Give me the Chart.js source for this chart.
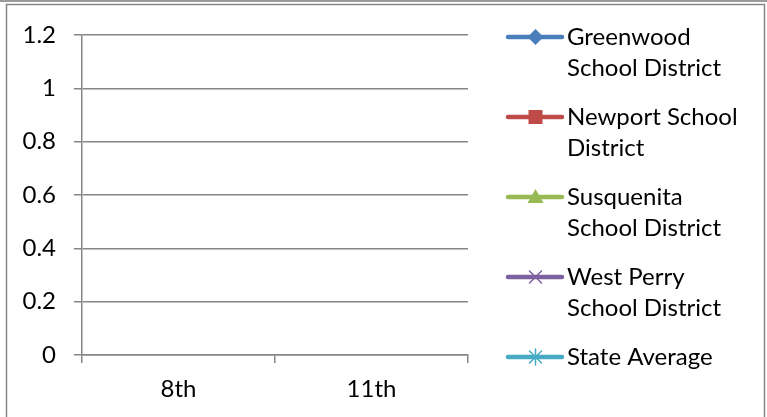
<!DOCTYPE html>
<html>
<head>
<meta charset="utf-8">
<script src="https://cdn.jsdelivr.net/npm/chart.js@4/dist/chart.umd.min.js"></script>
<style>
html,body{margin:0;padding:0;background:#fff;}
#wrap{width:767px;height:417px;}
canvas{display:block;}
</style>
</head>
<body>
<div id="wrap"><canvas id="c" width="767" height="417"></canvas></div>
<script>
// ---- data ----
const categories = ['8th', '11th'];
const seriesNames = [
  ['Greenwood', 'School District'],
  ['Newport School', 'District'],
  ['Susquenita', 'School District'],
  ['West Perry', 'School District'],
  ['State Average']
];
const greenwood = [null, null];
const newport = [null, null];
const susquenita = [null, null];
const westPerry = [null, null];
const stateAverage = [null, null];
const yTickLabels = ['0', '0.2', '0.4', '0.6', '0.8', '1', '1.2'];

// ---- styles ----
const FONT = 'Lato, "Open Sans", sans-serif';
const FS = 24;
const colors = ['#4A7EBB', '#BE4B48', '#98B954', '#7D60A0', '#46AAC5'];
const markers = ['diamond', 'square', 'triangle', 'x', 'star'];
const seriesData = [greenwood, newport, susquenita, westPerry, stateAverage];

const frame = {
  id: 'frame',
  beforeDraw(chart) {
    const ctx = chart.ctx;
    ctx.save();
    ctx.fillStyle = '#fff';
    ctx.fillRect(0, 0, chart.width, chart.height);
    ctx.strokeStyle = '#9a9a9a';
    ctx.lineWidth = 2;
    ctx.beginPath(); ctx.moveTo(0, 1); ctx.lineTo(chart.width, 1); ctx.stroke();
    ctx.strokeStyle = '#868686';
    ctx.lineWidth = 1.5;
    ctx.beginPath();
    ctx.moveTo(6.5, chart.height + 2);
    ctx.lineTo(6.5, 4.5);
    ctx.lineTo(764.5, 4.5);
    ctx.lineTo(764.5, chart.height + 2);
    ctx.stroke();
    ctx.restore();
  }
};

function drawMarker(ctx, type, x, y, color) {
  ctx.save();
  ctx.fillStyle = color;
  ctx.strokeStyle = color;
  ctx.lineWidth = 1.5;
  ctx.beginPath();
  if (type === 'diamond') {
    ctx.moveTo(x, y - 8); ctx.lineTo(x + 8, y); ctx.lineTo(x, y + 8); ctx.lineTo(x - 8, y); ctx.closePath(); ctx.fill();
  } else if (type === 'square') {
    ctx.rect(x - 7, y - 7, 14, 14); ctx.fill();
  } else if (type === 'triangle') {
    ctx.moveTo(x, y - 8); ctx.lineTo(x + 8, y + 6); ctx.lineTo(x - 8, y + 6); ctx.closePath(); ctx.fill();
  } else if (type === 'x') {
    ctx.moveTo(x - 6, y - 6); ctx.lineTo(x + 6, y + 6);
    ctx.moveTo(x + 6, y - 6); ctx.lineTo(x - 6, y + 6); ctx.stroke();
  } else if (type === 'star') {
    ctx.moveTo(x - 6, y - 6); ctx.lineTo(x + 6, y + 6);
    ctx.moveTo(x + 6, y - 6); ctx.lineTo(x - 6, y + 6);
    ctx.moveTo(x, y - 8); ctx.lineTo(x, y + 8); ctx.stroke();
  }
  ctx.restore();
}

const legendPlugin = {
  id: 'sideLegend',
  afterDraw(chart) {
    const ctx = chart.ctx;
    ctx.save();
    ctx.font = FS + 'px ' + FONT;
    ctx.textBaseline = 'alphabetic';
    ctx.textAlign = 'left';
    chart.data.datasets.forEach((ds, i) => {
      const base = 45 + i * 80;
      const cy = base - 8;
      ctx.strokeStyle = ds.borderColor;
      ctx.lineWidth = 4.5;
      ctx.lineCap = 'round';
      ctx.beginPath(); ctx.moveTo(508, cy); ctx.lineTo(562, cy); ctx.stroke();
      drawMarker(ctx, markers[i], 535.5, cy, ds.borderColor);
      ctx.fillStyle = '#000';
      const lines = seriesNames[i];
      lines.forEach((t, j) => ctx.fillText(t, 567, base + j * 31));
    });
    ctx.restore();
  }
};

function build() {
  new Chart(document.getElementById('c'), {
    type: 'line',
    data: {
      labels: categories,
      datasets: seriesData.map((d, i) => ({
        label: seriesNames[i].join(' '),
        data: d,
        borderColor: colors[i],
        backgroundColor: colors[i],
        borderWidth: 4,
        pointRadius: 5
      }))
    },
    options: {
      responsive: false,
      animation: false,
      layout: { padding: { left: 0, top: 35, right: 299, bottom: 0 } },
      plugins: { legend: { display: false }, tooltip: { enabled: false } },
      scales: {
        x: {
          type: 'category',
          offset: true,
          afterFit(s) { s.height = 62; },
          grid: { offset: true, drawOnChartArea: false, drawTicks: true, tickLength: 8, color: '#868686', lineWidth: 1.5 },
          border: { display: true, color: '#868686', width: 1.5 },
          ticks: { color: '#000', font: { family: FONT, size: FS }, padding: 12, maxRotation: 0 }
        },
        y: {
          min: 0, max: 1.2,
          afterFit(s) { s.width = 82; },
          grid: { drawTicks: true, tickLength: 8, color: '#868686', lineWidth: 1.5 },
          border: { display: true, color: '#868686', width: 1.5 },
          ticks: {
            stepSize: 0.2,
            color: '#000',
            font: { family: FONT, size: FS },
            padding: 18,
            callback: (v, i) => yTickLabels[i]
          }
        }
      }
    },
    plugins: [frame, legendPlugin]
  });
}
if (document.fonts && document.fonts.load) {
  document.fonts.load(FS + 'px Lato').then(build, build);
} else { build(); }
</script>
</body>
</html>
